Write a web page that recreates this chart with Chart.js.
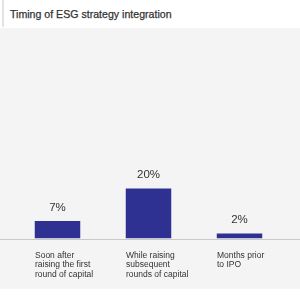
<!DOCTYPE html>
<html>
<head>
<meta charset="utf-8">
<script src="https://cdn.jsdelivr.net/npm/chart.js@4/dist/chart.umd.min.js"></script>
<style>
  html, body { margin: 0; padding: 0; background: #fff; }
  body { width: 300px; height: 300px; position: relative; overflow: hidden; font-family: "Liberation Sans", Arial, sans-serif; }
  #title {
    position: absolute; left: 2px; top: 0; height: 27px; width: 296px;
    border-left: 2px solid #e2e2e2;
    font-size: 10.6px; color: #333; line-height: 28px; padding-left: 6px;
    -webkit-text-stroke: 0.25px #333;
  }
  #wrap {
    position: absolute; left: 0; top: 28px; width: 300px; height: 263px;
    background: linear-gradient(to bottom, #f4f4f4 0, #f4f4f4 261px, #fff 261px);
  }
</style>
</head>
<body>
<div id="title">Timing of ESG strategy integration</div>
<div id="wrap"><canvas id="chart"></canvas></div>
<script>
// categories (multi-line tick labels)
var categories = [
    ['Soon after', 'raising the first', 'round of capital'],
    ['While raising', 'subsequent', 'rounds of capital'],
    ['Months prior', 'to IPO']
];
var shares = [7, 20, 2];

var bar_color = '#2e3192';
var text_color = '#333333';
var axis_color = '#c9c9c9';

// percent labels above bars + full width base line
var barLabels = {
    id: 'barLabels',
    afterDatasetsDraw: function (chart) {
        var c = chart.ctx;
        var meta = chart.getDatasetMeta(0);
        c.save();
        c.font = '11.5px "Liberation Sans", Arial, sans-serif';
        c.fillStyle = text_color;
        c.textAlign = 'center';
        c.textBaseline = 'middle';
        meta.data.forEach(function (bar, i) {
            c.fillText(shares[i] + '%', bar.x, bar.y - 13.5);
        });
        var y = Math.round(chart.chartArea.bottom) + 0.5;
        c.strokeStyle = axis_color;
        c.lineWidth = 1;
        c.beginPath();
        c.moveTo(0, y);
        c.lineTo(chart.width, y);
        c.stroke();
        c.restore();
    }
};

var ctx = document.getElementById('chart');
var chart = new Chart(ctx, {
    type: 'bar',
    data: {
        labels: categories,
        datasets: [{
            data: shares,
            backgroundColor: bar_color,
            barPercentage: 1,
            categoryPercentage: 0.5
        }]
    },
    options: {
        responsive: true,
        maintainAspectRatio: false,
        animation: false,
        layout: { padding: { left: 12, right: 15, top: 0, bottom: 0 } },
        scales: {
            x: {
                grid: { display: false, drawTicks: false },
                border: { display: false },
                afterFit: function (scale) {
                    scale.paddingLeft = 0;
                    scale.paddingRight = 0;
                },
                ticks: {
                    color: text_color,
                    align: 'start',
                    labelOffset: -22.5,
                    padding: 12,
                    maxRotation: 0,
                    autoSkip: false,
                    font: { family: '"Liberation Sans", Arial, sans-serif', size: 8.5, lineHeight: '9.5px' }
                }
            },
            y: {
                display: false,
                min: 0,
                max: 84
            }
        },
        plugins: {
            legend: { display: false },
            tooltip: { enabled: false }
        }
    },
    plugins: [barLabels]
});
</script>
</body>
</html>
